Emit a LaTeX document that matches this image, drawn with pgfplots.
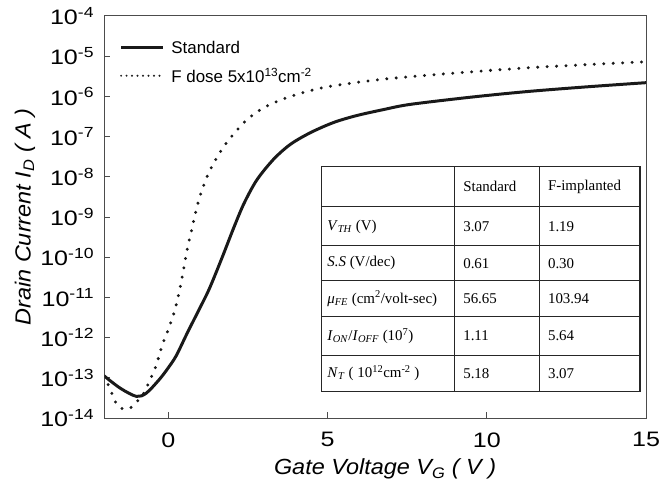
\documentclass[border=0pt]{standalone}
\usepackage{fontspec}
\setmainfont{Liberation Sans}
\newfontfamily\tabfont{Liberation Serif}
\newfontfamily\tickfont[FakeStretch=1.2]{Liberation Sans}
\newfontfamily\labfont[FakeStretch=1.07]{Liberation Sans}
\usepackage{pgfplots}
\pgfplotsset{compat=1.18}

\newcommand{\tfont}{\tabfont\fontsize{15}{18}\selectfont}

\begin{document}
\begin{tikzpicture}
\begin{axis}[
  name=ax,
  scale only axis, width=544pt, height=404pt,
  xmin=-2, xmax=15, ymin=1e-14, ymax=1e-4, ymode=log,
  xtick={0,5,10,15}, xticklabels={0,5,10,15},
  ytick={1e-14,1e-13,1e-12,1e-11,1e-10,1e-9,1e-8,1e-7,1e-6,1e-5,1e-4},
  yticklabels={10\textsuperscript{-14},10\textsuperscript{-13},10\textsuperscript{-12},10\textsuperscript{-11},10\textsuperscript{-10},10\textsuperscript{-9},10\textsuperscript{-8},10\textsuperscript{-7},10\textsuperscript{-6},10\textsuperscript{-5},10\textsuperscript{-4}},
  yminorticks=false,
  tick align=inside, xtick pos=bottom, ytick pos=left,
  major tick length=6pt,
  axis line style={draw=black!70, line width=1pt},
  every tick/.style={draw=black!70, line width=1pt},
  ticklabel style={font=\tickfont\fontsize{21}{24}\selectfont},
  xticklabel style={yshift=-11pt},
  yticklabel style={xshift=-7pt},
  xlabel={\textit{Gate Voltage V\textsubscript{G} ( V )}},
  ylabel={\textit{Drain Current I\textsubscript{D} ( A )}},
  label style={font=\labfont\fontsize{22}{26}\selectfont},
  xlabel style={at={(axis description cs:0.518,-0.126)}, anchor=center},
  ylabel style={at={(axis description cs:-0.147,0.5)}, anchor=center},
  legend style={at={(axis description cs:0.022,0.948)}, anchor=north west,
    draw=none, fill=none, font=\fontsize{17}{20}\selectfont, row sep=9pt},
  legend cell align=left,
  legend image code/.code={\draw[#1] (0pt,0pt) -- (42pt,0pt); \path (47pt,0pt);},
]
\addlegendimage{black!90, line width=3pt}
\addlegendentry{Standard}
\addlegendimage{black!90, line width=2.2pt, dash pattern=on 0pt off 5.5pt, line cap=round}
\addlegendentry{F dose 5x10\textsuperscript{13}cm\textsuperscript{-2}}

% Standard
\addplot[black!90, line width=3pt, smooth, forget plot] coordinates {
  (-2,1.10e-13) (-1.5,5.50e-14) (-1.0,3.47e-14) (-0.69,4.17e-14) (-0.28,9.12e-14)
  (0,1.78e-13) (0.25,3.55e-13) (0.6,1.32e-12) (0.95,4.68e-12) (1.28,1.58e-11)
  (1.67,8.91e-11) (2.06,5.50e-10) (2.38,2.19e-9) (2.78,8.32e-9) (3.31,2.75e-8)
  (3.84,6.46e-8) (4.47,1.26e-7) (5.19,2.24e-7) (5.9,3.31e-7) (6.75,4.68e-7)
  (7.59,6.31e-7) (9.5,9.55e-7) (11.28,1.32e-6) (13.2,1.74e-6) (15,2.19e-6)
};
% F dose 5x10^13 cm^-2
\addplot[black!90, line width=3.3pt, dash pattern=on 0pt off 9.5pt, line cap=round, smooth, forget plot] coordinates {
  (-2,1.12e-13) (-1.8,4.68e-14) (-1.6,2.09e-14) (-1.38,1.66e-14) (-1.16,1.86e-14)
  (-0.97,2.63e-14) (-0.8,3.72e-14) (-0.59,8.32e-14) (-0.38,2.04e-13) (-0.19,6.46e-13)
  (0,1.58e-12) (0.22,5.25e-12) (0.41,2.45e-11) (0.56,1.12e-10) (0.72,4.27e-10)
  (0.97,2.82e-9) (1.28,1.29e-8) (1.75,5.75e-8) (2.38,2.24e-7) (3.0,5.25e-7)
  (3.84,1.00e-6) (4.88,1.66e-6) (6.13,2.34e-6) (7.59,3.09e-6) (11.28,5.13e-6)
  (15,7.24e-6)
};

% parameter table
\fill[white] (rel axis cs:0.401,0.067) rectangle (rel axis cs:0.989,0.626);
\draw[black!85, line width=1.3pt] (rel axis cs:0.401,0.067) rectangle (rel axis cs:0.989,0.626);
\draw[black!85, line width=1pt] (rel axis cs:0.401,0.525) -- (rel axis cs:0.989,0.525);
\draw[black!85, line width=1pt] (rel axis cs:0.401,0.428) -- (rel axis cs:0.989,0.428);
\draw[black!85, line width=1pt] (rel axis cs:0.401,0.342) -- (rel axis cs:0.989,0.342);
\draw[black!85, line width=1pt] (rel axis cs:0.401,0.252) -- (rel axis cs:0.989,0.252);
\draw[black!85, line width=1pt] (rel axis cs:0.401,0.156) -- (rel axis cs:0.989,0.156);
\draw[black!85, line width=1pt] (rel axis cs:0.647,0.067) -- (rel axis cs:0.647,0.626);
\draw[black!85, line width=1pt] (rel axis cs:0.803,0.067) -- (rel axis cs:0.803,0.626);

\node[anchor=west, font=\tfont] at (rel axis cs:0.656,0.5755) {Standard};
\node[anchor=west, font=\tfont] at (rel axis cs:0.8125,0.5755) {F-implanted};

\node[anchor=west, font=\tfont] at (rel axis cs:0.405,0.4765) {\textit{V}\textsubscript{\textit{TH}} (V)};
\node[anchor=west, font=\tfont] at (rel axis cs:0.656,0.4765) {3.07};
\node[anchor=west, font=\tfont] at (rel axis cs:0.8125,0.4765) {1.19};

\node[anchor=west, font=\tfont] at (rel axis cs:0.405,0.385) {\textit{S.S} (V/dec)};
\node[anchor=west, font=\tfont] at (rel axis cs:0.656,0.385) {0.61};
\node[anchor=west, font=\tfont] at (rel axis cs:0.8125,0.385) {0.30};

\node[anchor=west, font=\tfont] at (rel axis cs:0.405,0.297) {\textit{μ}\textsubscript{\textit{FE}} (cm\textsuperscript{2}/volt-sec)};
\node[anchor=west, font=\tfont] at (rel axis cs:0.656,0.297) {56.65};
\node[anchor=west, font=\tfont] at (rel axis cs:0.8125,0.297) {103.94};

\node[anchor=west, font=\tfont] at (rel axis cs:0.405,0.204) {\textit{I}\textsubscript{\textit{ON}}/\textit{I}\textsubscript{\textit{OFF}} (10\textsuperscript{7})};
\node[anchor=west, font=\tfont] at (rel axis cs:0.656,0.204) {1.11};
\node[anchor=west, font=\tfont] at (rel axis cs:0.8125,0.204) {5.64};

\node[anchor=west, font=\tfont] at (rel axis cs:0.405,0.1115) {\textit{N}\textsubscript{\textit{T}} ( 10\textsuperscript{12}cm\textsuperscript{-2} )};
\node[anchor=west, font=\tfont] at (rel axis cs:0.656,0.1115) {5.18};
\node[anchor=west, font=\tfont] at (rel axis cs:0.8125,0.1115) {3.07};
\end{axis}
\pgfresetboundingbox
\path[use as bounding box] ([shift={(-105pt,-79pt)}]ax.south west) rectangle ([shift={(14pt,16pt)}]ax.north east);
\end{tikzpicture}
\end{document}
